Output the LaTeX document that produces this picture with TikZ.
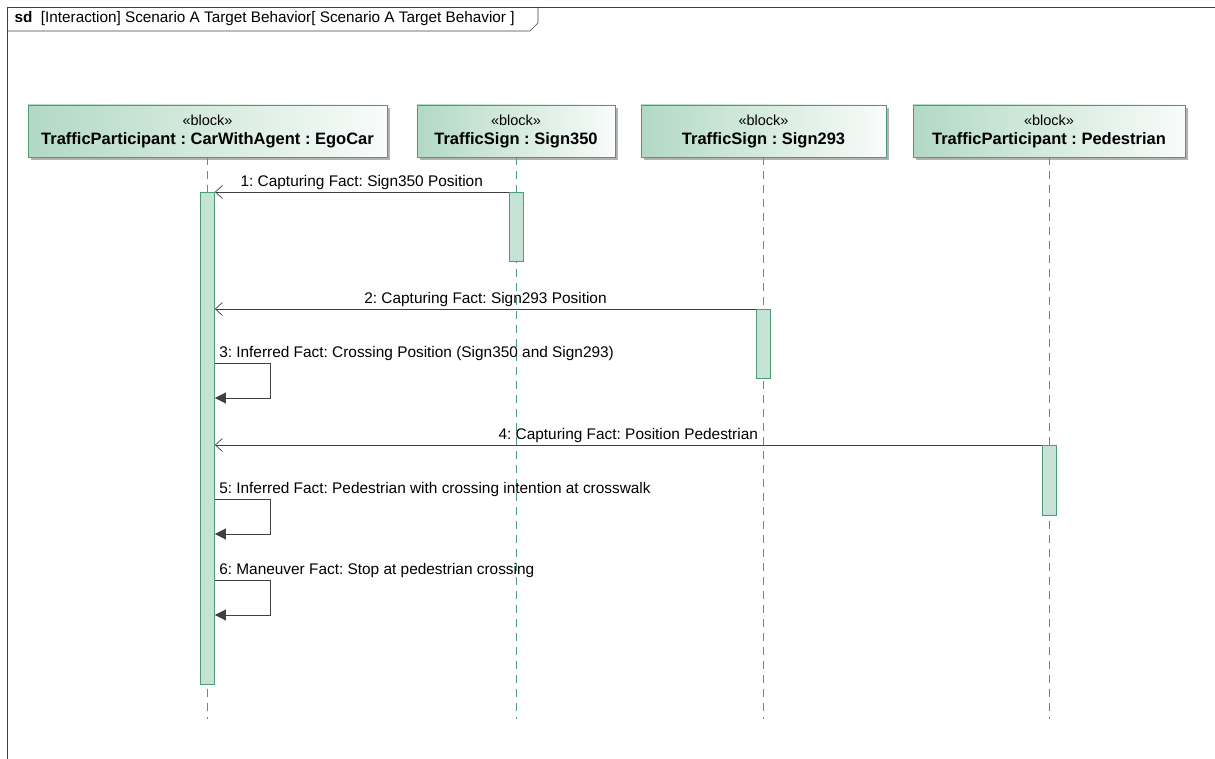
\documentclass[tikz,border=0pt]{standalone}
\usepackage{fontspec}
\setmainfont{Liberation Sans}
\usetikzlibrary{arrows.meta,positioning,shadows}

\definecolor{blockgreen}{HTML}{B2D9C4}
\definecolor{linegreen}{HTML}{4F9B76}
\definecolor{actfill}{HTML}{C4E3D4}
\definecolor{msggray}{HTML}{404040}

\tikzset{
  block/.style={draw=linegreen, line width=0.8pt, left color=blockgreen, right color=blockgreen!8,
    minimum height=52pt, inner sep=0pt, align=center, font=\fontsize{14.5}{19}\selectfont,
    drop shadow={shadow xshift=3pt, shadow yshift=-3pt, fill=black!30, opacity=1}},
  lifeline/.style={draw=linegreen, line width=1pt, dash pattern=on 8pt off 6pt},
  act/.style={draw=linegreen, fill=actfill, line width=0.8pt, minimum width=14pt, inner sep=0pt, anchor=north},
  msg/.style={draw=msggray, line width=0.7pt, -{Straight Barb[length=7pt,width=13pt]}},
  selfmsg/.style={draw=msggray, line width=0.7pt, -{Triangle[length=11pt,width=11pt]}},
  msglabel/.style={font=\fontsize{15.4}{18}\selectfont, inner sep=2pt}
}
\newcommand{\blocktext}[1]{«block»\\{\fontsize{16.5}{20}\selectfont\bfseries #1}}

\begin{document}
\frenchspacing
\begin{tikzpicture}[x=1pt,y=-1pt]
  \useasboundingbox (0,0) rectangle (1215,759);
  % frame and its name tab
  \draw[line width=0.7pt, msggray] (7,760) -- (7,7) -- (1216,7);
  \draw[line width=0.7pt, msggray] (7,31) -- (530,31) -- (538,23) -- (538,7);
  \node[anchor=west, font=\fontsize{15.3}{18}\selectfont] (title) at (11,19)
    {\textbf{sd}\ \ [Interaction] Scenario A Target Behavior[ Scenario A Target Behavior ]};

  % lifeline heads
  \node[block, minimum width=359pt] (ego) at (207.5,131) {\blocktext{TrafficParticipant : CarWithAgent : EgoCar}};
  \node[block, minimum width=198pt] (signA) at (516,131) {\blocktext{TrafficSign : Sign350}};
  \node[block, minimum width=245pt] (signB) at (763.5,131) {\blocktext{TrafficSign : Sign293}};
  \node[block, minimum width=272pt] (ped) at (1049,131) {\blocktext{TrafficParticipant : Pedestrian}};

  % dashed lifelines
  \foreach \p in {ego,signA,signB,ped} {
    \coordinate (\p End) at (\p.south |- 0,719);
    \draw[lifeline] (\p.south) -- (\p End);
  }

  % activations
  \node[act, minimum height=492pt] (egoAct) at (ego.south |- 0,192) {};
  \node[act, minimum height=69pt] (signAAct) at (signA.south |- 0,192) {};
  \node[act, minimum height=69pt] (signBAct) at (signB.south |- 0,309) {};
  \node[act, minimum height=70pt] (pedAct) at (ped.south |- 0,445) {};

  % messages
  \draw[msg] (signAAct.north west) -- (egoAct.east |- signAAct.north)
    node[msglabel, midway, above] {1: Capturing Fact: Sign350 Position};
  \draw[msg] (signBAct.north west) -- (egoAct.east |- signBAct.north)
    node[msglabel, midway, above] {2: Capturing Fact: Sign293 Position};
  \draw[selfmsg] (egoAct.east |- 0,363) node[msglabel, above right, xshift=2pt] {3: Inferred Fact: Crossing Position (Sign350 and Sign293)}
    -- +(55,0) |- (egoAct.east |- 0,398);
  \draw[msg] (pedAct.north west) -- (egoAct.east |- pedAct.north)
    node[msglabel, midway, above] {4: Capturing Fact: Position Pedestrian};
  \draw[selfmsg] (egoAct.east |- 0,499) node[msglabel, above right, xshift=2pt] {5: Inferred Fact: Pedestrian with crossing intention at crosswalk}
    -- +(55,0) |- (egoAct.east |- 0,534);
  \draw[selfmsg] (egoAct.east |- 0,580) node[msglabel, above right, xshift=2pt] {6: Maneuver Fact: Stop at pedestrian crossing}
    -- +(55,0) |- (egoAct.east |- 0,615);
\end{tikzpicture}
\end{document}
